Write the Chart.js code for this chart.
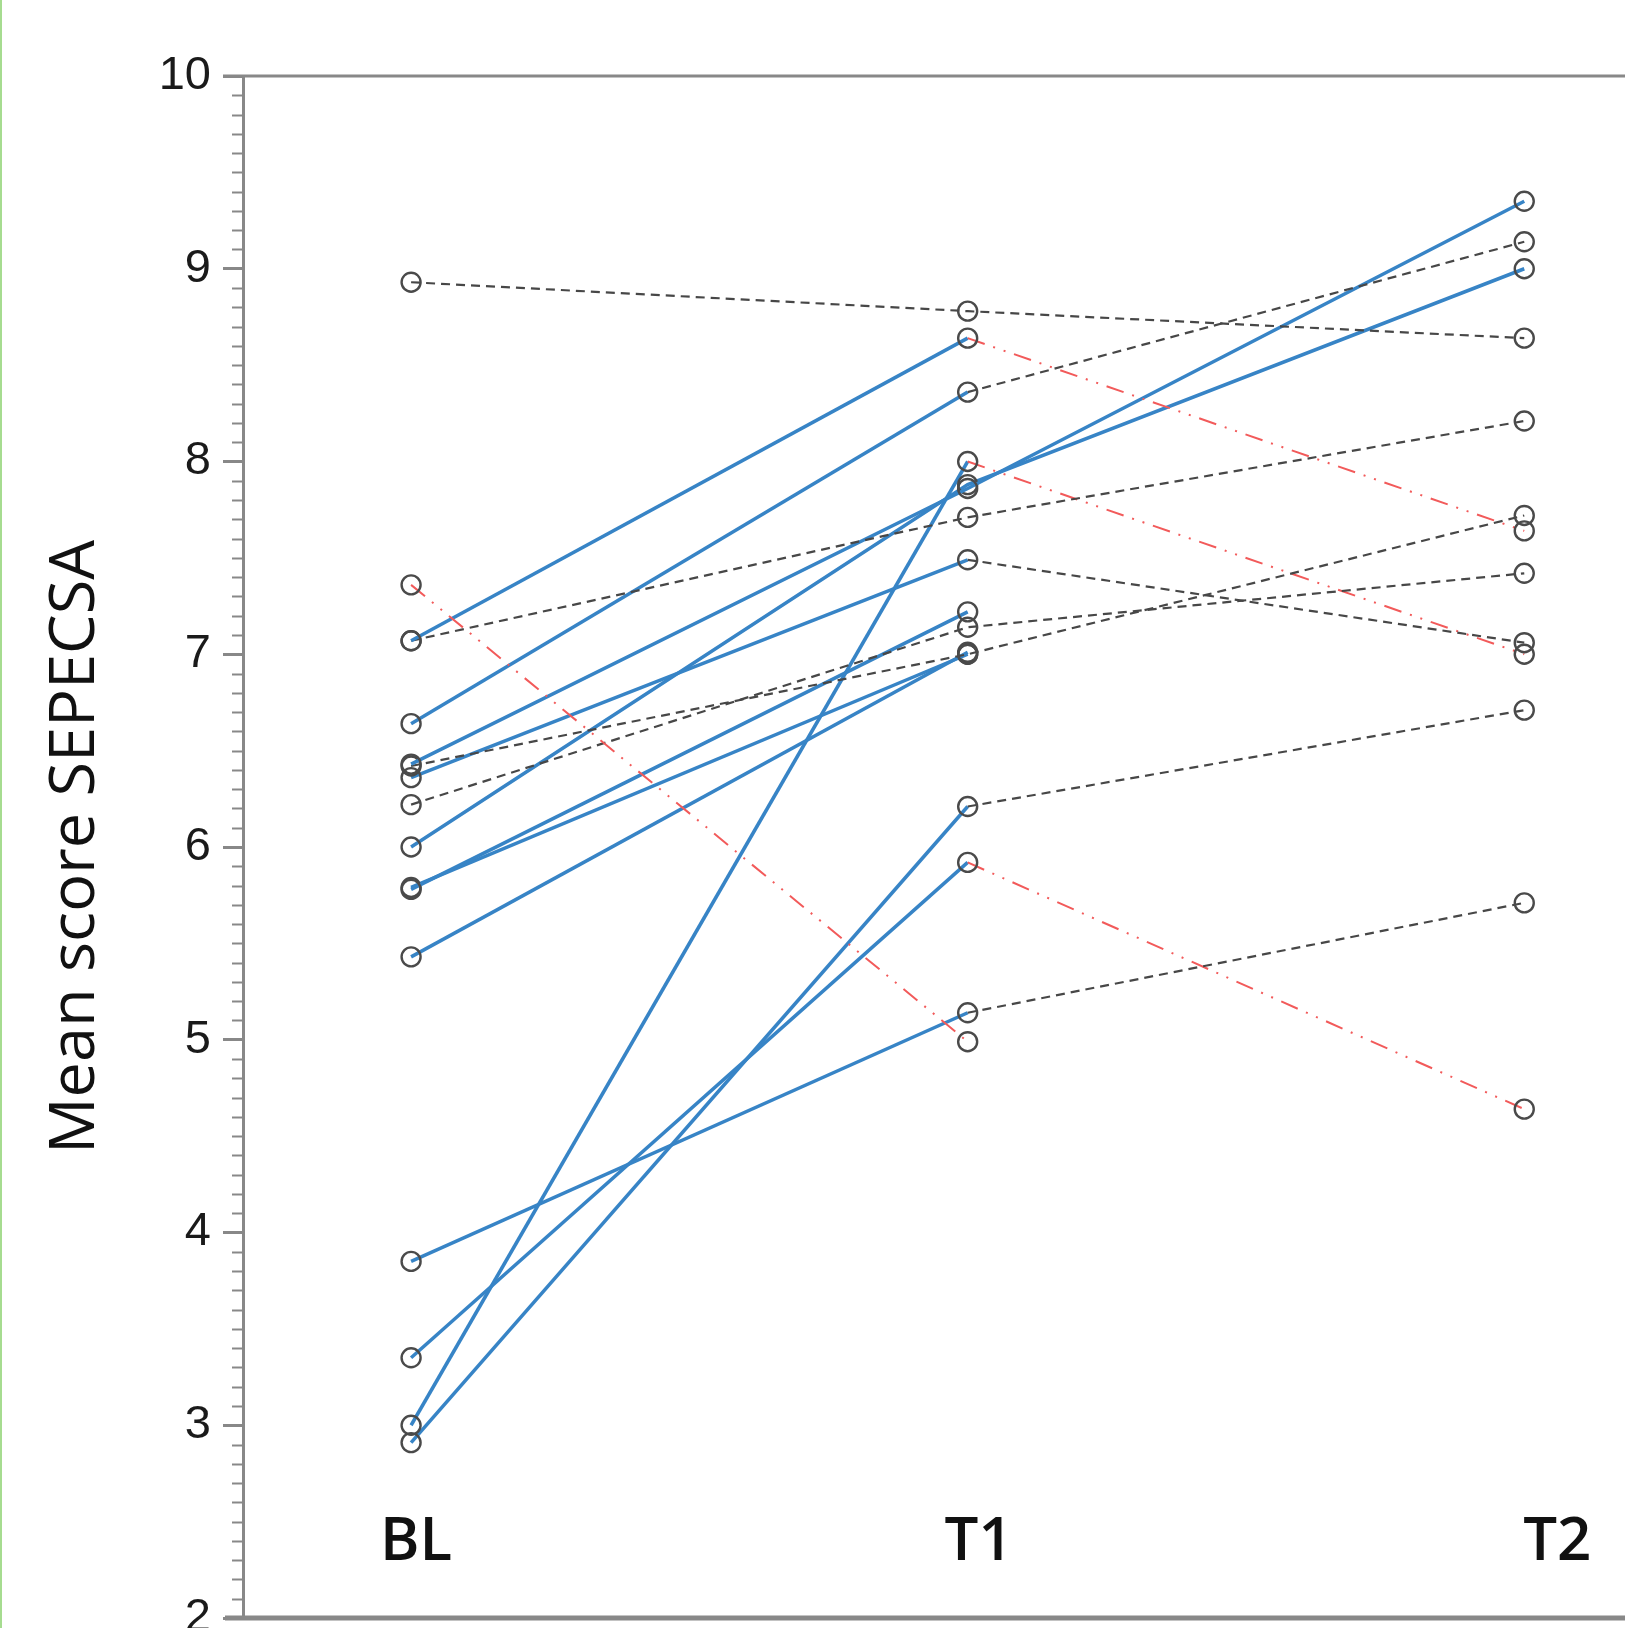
<!DOCTYPE html>
<html>
<head>
<meta charset="utf-8">
<script src="https://cdn.jsdelivr.net/npm/chart.js@4.4.1/dist/chart.umd.min.js"></script>
<style>
  html, body { margin: 0; padding: 0; background: #fff; overflow: hidden; }
  #wrap { position: relative; width: 1625px; height: 1628px; }
  #chart { display: block; }
  #edge { position: absolute; left: 0; top: 0; width: 2px; height: 100%; background: #a6dc90; }
</style>
</head>
<body>
<div id="wrap">
  <canvas id="chart" width="1625" height="1628"></canvas>
  <div id="edge"></div>
</div>
<script>
// time points (x categories)
const timepoints = ["BL", "T1", "T2"];

// one entry per participant, same order in each array (null = no measure)
const blScores = [8.93, 7.36, 7.07, 7.07, 6.64, 6.43, 6.42, 6.36, 6.22, 6.00, 5.78, 5.79, 5.43, 3.85, 3.35, 3.00, 2.91];
const t1Scores = [8.78, 4.99, 8.64, 7.71, 8.36, 7.86, 7.00, 7.49, 7.14, 7.88, 7.22, 7.00, 7.01, 5.14, 5.92, 8.00, 6.21];
const t2Scores = [8.64, null, 7.64, 8.21, 9.14, 9.35, 7.72, 7.06, 7.42, 9.00, null, null, null, 5.71, 4.64, 7.00, 6.71];

// y axis
const yMin = 2;
const yMax = 10;
const yTitle = "Mean score SEPECSA";

// change needed for a segment to count as improved / worsened
const changeLimit = 0.95;

const BLUE = "#3784c6";
const GREY = "#474747";
const RED = "#f25a5a";
const AXIS = "#888888";

// small horizontal nudge of the time point labels (px)
const labelNudge = [5, 11, 33];

function segStyle(ctx) {
  const d = ctx.p1.parsed.y - ctx.p0.parsed.y;
  if (d >= changeLimit) return { color: BLUE, dash: [], width: 3.5 };
  if (d <= -changeLimit) return { color: RED, dash: [18, 9, 2, 9, 2, 9], width: 2 };
  return { color: GREY, dash: [9, 6], width: 2.2 };
}

const datasets = blScores.map((bl, i) => ({
  data: [bl, t1Scores[i], t2Scores[i]].map((v, k) => ({ x: k, y: v })),
  borderColor: GREY,
  borderWidth: 2,
  segment: {
    borderColor: ctx => segStyle(ctx).color,
    borderDash: ctx => segStyle(ctx).dash,
    borderWidth: ctx => segStyle(ctx).width
  },
  pointRadius: 9.5,
  pointBorderWidth: 2.4,
  pointBorderColor: "#4a4a4a",
  pointBackgroundColor: "rgba(0,0,0,0)",
  tension: 0,
  spanGaps: false
}));

// frame lines, minor ticks and the time point labels inside the plot
const framePlugin = {
  id: "frame",
  afterDraw(chart) {
    const { ctx, chartArea, scales } = chart;
    const y = scales.y, x = scales.x;
    ctx.save();
    ctx.strokeStyle = AXIS;
    // top line
    ctx.lineWidth = 3;
    ctx.beginPath();
    ctx.moveTo(chartArea.left - 20, chartArea.top);
    ctx.lineTo(chart.width, chartArea.top);
    ctx.stroke();
    // bottom line
    ctx.lineWidth = 5;
    ctx.beginPath();
    ctx.moveTo(chartArea.left - 18, chartArea.bottom);
    ctx.lineTo(chart.width, chartArea.bottom);
    ctx.stroke();
    // minor ticks every 0.1
    ctx.lineWidth = 2;
    for (let i = yMin * 10 + 1; i < yMax * 10; i++) {
      if (i % 10 === 0) continue;
      const py = Math.round(y.getPixelForValue(i / 10)) + 0.5;
      ctx.beginPath();
      ctx.moveTo(chartArea.left - 11, py);
      ctx.lineTo(chartArea.left, py);
      ctx.stroke();
    }
    // time point labels
    ctx.fillStyle = "#111";
    ctx.font = '600 60px "Open Sans"';
    ctx.textAlign = "center";
    ctx.textBaseline = "alphabetic";
    timepoints.forEach((t, i) => {
      ctx.fillText(t, x.getPixelForValue(i) + labelNudge[i], y.getPixelForValue(2.3));
    });
    ctx.restore();
  }
};

new Chart(document.getElementById("chart"), {
  type: "line",
  data: { datasets },
  options: {
    responsive: false,
    animation: false,
    devicePixelRatio: 1,
    layout: { autoPadding: false, padding: { top: 76, bottom: 10, left: 0, right: 0 } },
    plugins: { legend: { display: false }, tooltip: { enabled: false } },
    scales: {
      x: {
        type: "linear",
        display: false,
        min: -0.302,
        max: 2.181
      },
      y: {
        min: yMin,
        max: yMax,
        afterFit(scale) {
          scale.width = 243;
          scale.paddingTop = 0;
          scale.paddingBottom = 0;
        },
        ticks: {
          stepSize: 1,
          padding: 12,
          color: "#1a1a1a",
          font: { family: '"Liberation Sans", Arial, sans-serif', size: 47 }
        },
        grid: {
          drawOnChartArea: false,
          drawTicks: true,
          tickLength: 20,
          tickWidth: 3,
          tickColor: AXIS
        },
        border: { display: true, color: AXIS, width: 3 },
        title: {
          display: true,
          text: yTitle,
          color: "#111",
          padding: { top: 38, bottom: 0 },
          font: { family: '"Open Sans", sans-serif', size: 63 }
        }
      }
    }
  },
  plugins: [framePlugin]
});
</script>
</body>
</html>
